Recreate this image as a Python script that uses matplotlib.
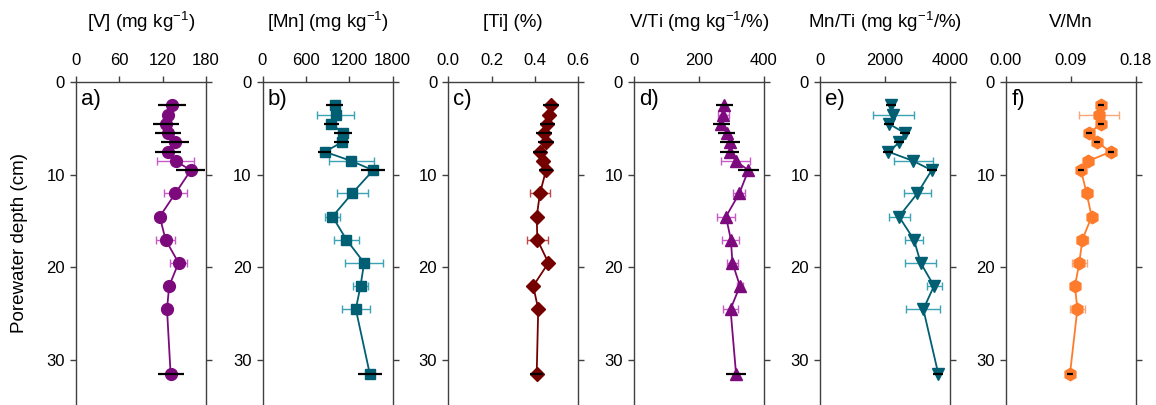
import numpy as np
import matplotlib
matplotlib.use('Agg')
from matplotlib import pyplot as plt

plt.rcParams['font.family'] = ['Liberation Sans', 'DejaVu Sans']
plt.rcParams['mathtext.fontset'] = 'custom'
plt.rcParams['mathtext.rm'] = 'Liberation Sans'
plt.rcParams['mathtext.default'] = 'regular'

# porewater depth (cm)
depth = [2.5, 3.5, 4.5, 5.5, 6.5, 7.5, 8.5, 9.5, 12, 14.5, 17, 19.5, 22, 24.5, 31.5]

# a) [V]
v_vals = [133, 127, 125, 127, 137, 127, 138, 159, 137.5, 116, 124, 142, 129, 126, 131]
v_err_blk = [19, 0, 18, 18, 19, 18, 0, 20, 0, 0, 0, 0, 0, 0, 18]
v_err_col = [0, 4, 0, 0, 0, 0, 26, 0, 16, 7, 13, 12, 4, 5, 0]

# b) [Mn]
mn_vals = [1001, 1011, 955, 1117, 1094, 863, 1232, 1532, 1241, 969, 1163, 1407, 1357, 1292, 1486]
mn_err_blk = [115, 0, 106, 125, 104, 92, 0, 166, 0, 0, 0, 0, 0, 0, 162]
mn_err_col = [0, 250, 0, 0, 0, 0, 316, 0, 214, 110, 178, 258, 110, 196, 0]

# c) [Ti]
ti_vals = [0.474, 0.465, 0.457, 0.442, 0.451, 0.423, 0.438, 0.451, 0.423, 0.408, 0.411, 0.462, 0.392, 0.415, 0.408]
ti_err_blk = [0.037, 0, 0.036, 0.035, 0.035, 0.032, 0, 0.033, 0, 0, 0, 0, 0, 0, 0.031]
ti_err_col = [0, 0.01, 0, 0, 0, 0, 0.012, 0, 0.048, 0.01, 0.05, 0.01, 0.01, 0.01, 0]

# d) V/Ti
vti_vals = [278, 275, 269, 285, 295, 295, 313, 352, 324, 283, 298, 303, 326, 297, 314]
vti_err_blk = [26, 0, 26, 27, 30, 29, 0, 32, 0, 0, 0, 0, 0, 0, 31]
vti_err_col = [0, 18, 0, 0, 0, 0, 45, 0, 19, 28, 26, 16, 10, 23, 0]

# e) Mn/Ti
mnti_vals = [2174, 2256, 2133, 2615, 2441, 2103, 2872, 3436, 2995, 2431, 2892, 3097, 3508, 3179, 3641]
mnti_err_blk = [150, 0, 150, 150, 150, 150, 0, 150, 0, 0, 0, 0, 0, 0, 150]
mnti_err_col = [0, 636, 0, 0, 0, 0, 590, 0, 405, 323, 282, 467, 231, 528, 0]

# f) V/Mn
vmn_vals = [0.1315, 0.1288, 0.131, 0.115, 0.1264, 0.145, 0.114, 0.1038, 0.1117, 0.1186, 0.1057, 0.1015, 0.0955, 0.0988, 0.0886]
vmn_err_blk = [0.004, 0, 0.004, 0.004, 0.004, 0.004, 0, 0.004, 0, 0, 0, 0, 0, 0, 0.004]
vmn_err_col = [0, 0.0277, 0, 0, 0, 0, 0.006, 0, 0.007, 0.004, 0.008, 0.01, 0.004, 0.01, 0]

titles = ['[V] (mg kg$^{-1}$)', '[Mn] (mg kg$^{-1}$)', '[Ti] (%)',
          'V/Ti (mg kg$^{-1}$/%)', 'Mn/Ti (mg kg$^{-1}$/%)', 'V/Mn']
letters = ['a)', 'b)', 'c)', 'd)', 'e)', 'f)']
xticks = [[0, 60, 120, 180], [0, 600, 1200, 1800], [0, 0.2, 0.4, 0.6],
          [0, 200, 400], [0, 2000, 4000], [0, 0.09, 0.18]]
xticklabels = [['0', '60', '120', '180'], ['0', '600', '1200', '1800'],
               ['0.0', '0.2', '0.4', '0.6'], ['0', '200', '400'],
               ['0', '2000', '4000'], ['0.00', '0.09', '0.18']]

panels = [
    (v_vals, v_err_blk, v_err_col, 'o', 8.5, '#7d0a7d', '#c85ac8'),
    (mn_vals, mn_err_blk, mn_err_col, 's', 7.5, '#005f72', '#3aa3b5'),
    (ti_vals, ti_err_blk, ti_err_col, 'D', 7, '#750000', '#c04848'),
    (vti_vals, vti_err_blk, vti_err_col, '^', 8.5, '#7d0a7d', '#c85ac8'),
    (mnti_vals, mnti_err_blk, mnti_err_col, 'v', 8.5, '#005f72', '#3aa3b5'),
    (vmn_vals, vmn_err_blk, vmn_err_col, 'h', 9, '#ff7b2c', '#f8a878'),
]

W, H = 1156, 405
fig = plt.figure(figsize=(W / 100, H / 100), dpi=100)
lefts_px = [76, 262.5, 448.3, 634, 820, 1006]
ax_w = 130 / W
ax_top = 1 - 82.3 / H
spine_col = '#404040'

d = np.array(depth)
for i, (vals, eb, ec, mk, ms, col, ecol) in enumerate(panels):
    ax = fig.add_axes([lefts_px[i] / W, 0, ax_w, ax_top])
    vals = np.array(vals)
    eb = np.array(eb)
    ec = np.array(ec)

    m = ec > 0
    ax.errorbar(vals[m], d[m], xerr=ec[m], fmt='none', ecolor=ecol,
                elinewidth=1.0, capsize=3, capthick=1.0, zorder=1)
    ax.plot(vals, d, color=col, lw=1.3, marker=mk, ms=ms, mec=col, mfc=col, zorder=2)
    m = eb > 0
    ax.errorbar(vals[m], d[m], xerr=eb[m], fmt='none', ecolor='black',
                elinewidth=1.6, capsize=0, zorder=3)

    xmax = xticks[i][-1]
    ax.set_xlim(0, xmax)
    ax.set_ylim(34.85, 0)
    ax.xaxis.tick_top()
    ax.set_xticks(xticks[i])
    ax.set_xticklabels(xticklabels[i])
    ax.set_yticks([0, 10, 20, 30])
    ax.tick_params(axis='x', direction='out', length=4, width=1, color=spine_col,
                   labelsize=12, pad=6, top=True, bottom=False)
    ax.tick_params(axis='y', direction='out', length=4, width=1, color=spine_col,
                   labelsize=12, pad=4, left=True, right=True)
    ax.spines['bottom'].set_visible(False)
    for s in ['top', 'left', 'right']:
        ax.spines[s].set_color(spine_col)
        ax.spines[s].set_linewidth(1)

    ax.text(0.5, 1 + 60 / (ax_top * H), titles[i], transform=ax.transAxes,
            ha='center', va='center', fontsize=13.5)
    ax.text(0.04, 0.98, letters[i], transform=ax.transAxes,
            ha='left', va='top', fontsize=16)

fig.text(0.017, 0.40, 'Porewater depth (cm)', rotation=90, ha='center', va='center', fontsize=13.5)

plt.savefig('out.png', dpi=100)
